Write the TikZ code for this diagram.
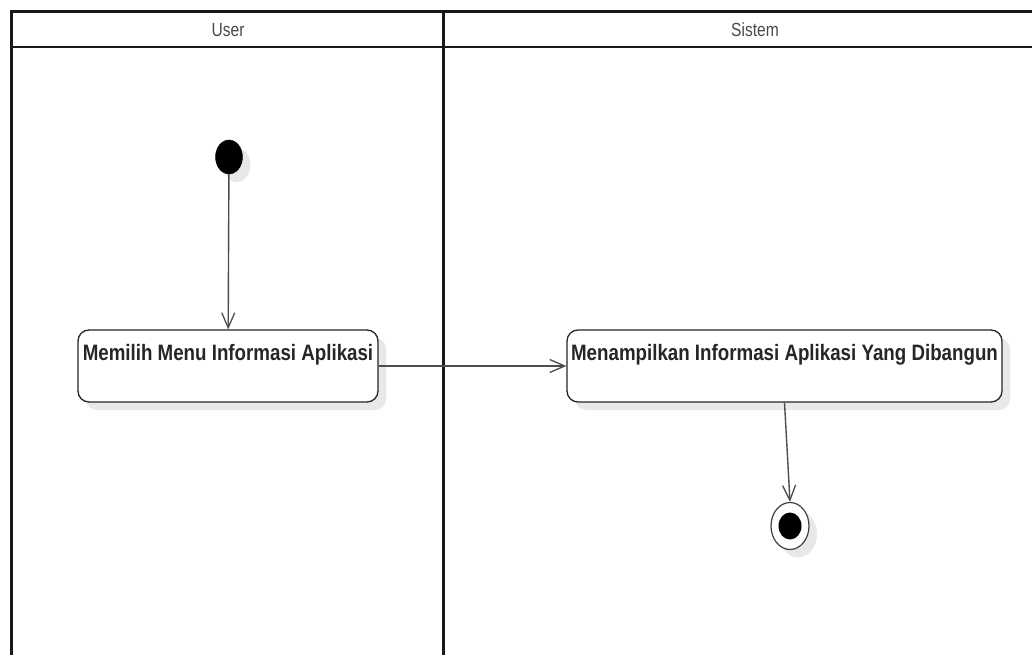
\documentclass[tikz,border=0pt]{standalone}
\usepackage{fontspec}
\setmainfont{Liberation Sans}
\newfontfamily\narrowfont[FakeStretch=0.82]{Liberation Sans}
\newfontfamily\boxfont[FakeStretch=0.84]{Liberation Sans}
\usetikzlibrary{arrows.meta,shapes.geometric,shadows}
\definecolor{lanetext}{HTML}{4A4A4A}
\definecolor{flow}{HTML}{4D4D4D}
\tikzset{
  lane/.style={line width=3pt, draw=black!90},
  lanehead/.style={font=\narrowfont\fontsize{19}{21}\selectfont, text=lanetext},
  soft/.style={drop shadow={shadow xshift=8pt, shadow yshift=-8pt, fill=black, opacity=0.09}},
  actbox/.style={draw=black!85, line width=1.3pt, rounded corners=11pt, fill=white, soft,
    minimum height=72pt, inner xsep=0pt, inner ysep=0pt, text height=30pt, text depth=42pt,
    font=\boxfont\bfseries\fontsize{22.3}{26}\selectfont, text=black!85},
  startdot/.style={ellipse, fill=black, draw=black, inner sep=0pt, minimum width=27pt, minimum height=34pt, soft},
  enddot/.style={ellipse, draw=black!75, line width=1.2pt, fill=white, inner sep=0pt, minimum width=38pt, minimum height=47pt, soft},
  enddotcore/.style={ellipse, fill=black, inner sep=0pt, minimum width=23pt, minimum height=27pt},
  flowline/.style={draw=flow, line width=1.4pt, -{Straight Barb[length=15pt, width=13pt, line width=1.3pt]}}
}
\begin{document}
\begin{tikzpicture}[x=1pt, y=-1pt]
  \useasboundingbox (0,0) rectangle (1032,655);
  \fill[white] (0,0) rectangle (1032,655);

  % swimlane frame
  \draw[lane] (11,656) -- (11,12) -- (1033,12);
  \draw[lane, line width=2.5pt] (11,47) -- (1033,47);
  \draw[lane] (443,12) -- (443,656);
  \node[lanehead] (laneuser) at (228,30) {User};
  \node[lanehead] (lanesys) at (755,30) {Sistem};

  % activity nodes
  \node[startdot] (start) at (229,157) {};
  \node[actbox, minimum width=300pt] (act1) at (228,366) {Memilih Menu Informasi Aplikasi};
  \node[actbox, minimum width=435pt] (act2) at (784.5,366) {Menampilkan Informasi Aplikasi Yang Dibangun};
  \node[enddot] (finish) at (790,526) {};
  \node[enddotcore] (finishcore) at (finish.center) {};

  % control flows
  \draw[flowline] (start) -- (act1);
  \draw[flowline] (act1) -- (act2);
  \draw[flowline] (act2.south) -- (finish.north);
\end{tikzpicture}
\end{document}
